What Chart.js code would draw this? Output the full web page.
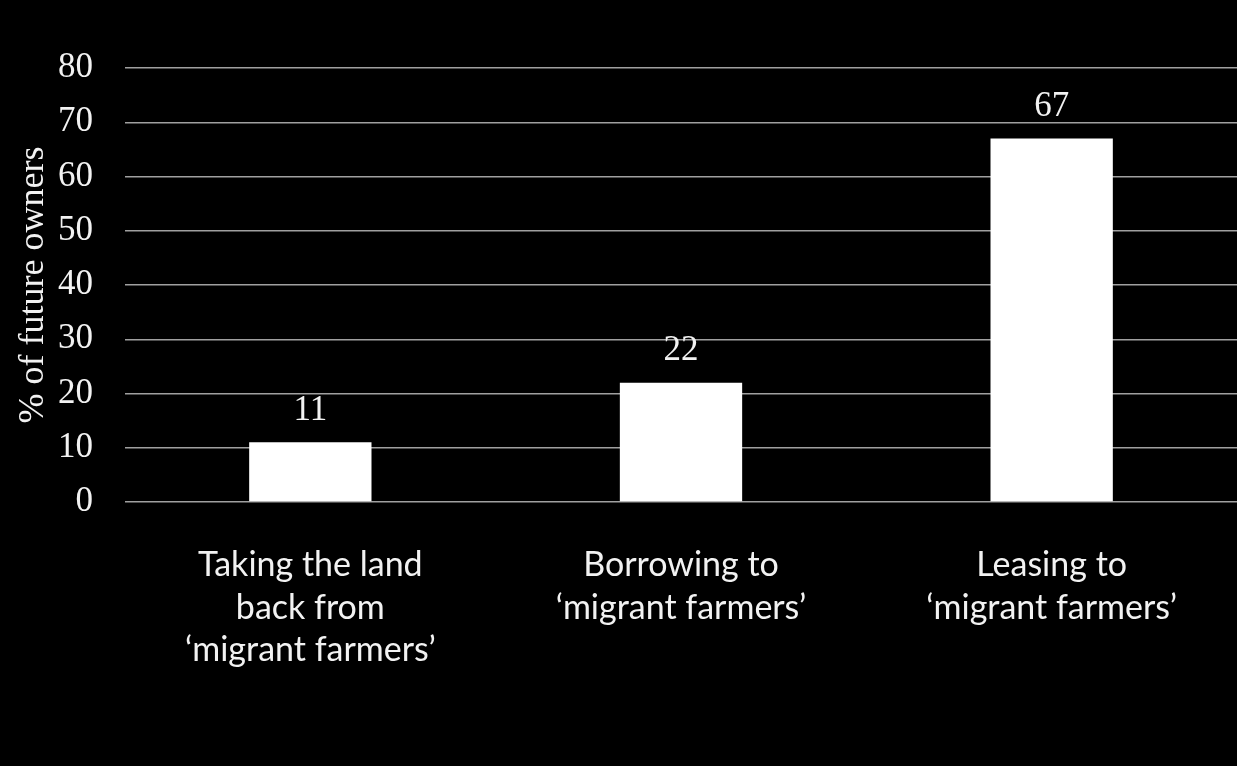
<!DOCTYPE html>
<html>
<head>
<meta charset="utf-8">
<script src="https://cdn.jsdelivr.net/npm/chart.js@4/dist/chart.umd.min.js"></script>
<style>
  html, body { margin: 0; padding: 0; background: #000; }
  #wrap { width: 1237px; height: 766px; }
</style>
</head>
<body>
<div id="wrap"><canvas id="chartOwners"></canvas></div>
<script>
const categories = [
    ['Taking the land', 'back from', '\u2018migrant farmers\u2019'],
    ['Borrowing to', '\u2018migrant farmers\u2019'],
    ['Leasing to', '\u2018migrant farmers\u2019']
];
const shares = [11, 22, 67];
const yTicks = [0, 10, 20, 30, 40, 50, 60, 70, 80];

const serif = '"Liberation Serif", "Times New Roman", serif';
const textColor = '#f2f2f2';

// value labels above each bar
const barValues = {
    id: 'barValues',
    afterDatasetsDraw(chart) {
        const ctx = chart.ctx;
        const meta = chart.getDatasetMeta(0);
        ctx.save();
        ctx.fillStyle = textColor;
        ctx.font = '35px ' + serif;
        ctx.textAlign = 'center';
        ctx.textBaseline = 'middle';
        meta.data.forEach((bar, i) => {
            ctx.fillText(String(shares[i]), bar.x, bar.y - 32);
        });
        ctx.restore();
    }
};

const ctxOwners = document.getElementById('chartOwners');
const chartOwners = new Chart(ctxOwners, {
    type: 'bar',
    data: {
        labels: categories,
        datasets: [{
            data: shares,
            backgroundColor: '#ffffff',
            borderWidth: 0,
            categoryPercentage: 1,
            barPercentage: 0.33
        }]
    },
    plugins: [barValues],
    options: {
        responsive: true,
        maintainAspectRatio: false,
        animation: false,
        layout: { padding: { top: 68, right: 0, bottom: 0, left: 0 } },
        plugins: {
            legend: { display: false },
            tooltip: { enabled: false }
        },
        scales: {
            x: {
                grid: { display: false },
                border: { display: false },
                ticks: {
                    color: textColor,
                    font: { family: 'Lato, "Noto Sans", sans-serif', size: 34, lineHeight: 1.25 },
                    padding: 34,
                    maxRotation: 0
                },
                afterFit(scale) { scale.height = 264; }
            },
            y: {
                min: 0,
                max: 80,
                afterBuildTicks(scale) { scale.ticks = yTicks.map(v => ({ value: v })); },
                grid: { color: '#a0a0a0', lineWidth: 1.5, tickLength: 0 },
                border: { display: false },
                ticks: {
                    color: textColor,
                    font: { family: serif, size: 35 },
                    padding: 32
                },
                title: {
                    display: true,
                    text: '% of future owners',
                    color: textColor,
                    font: { family: serif, size: 36 },
                    padding: { top: 12, bottom: 0 }
                },
                afterFit(scale) { scale.width = 125; }
            }
        }
    }
});
</script>
</body>
</html>
